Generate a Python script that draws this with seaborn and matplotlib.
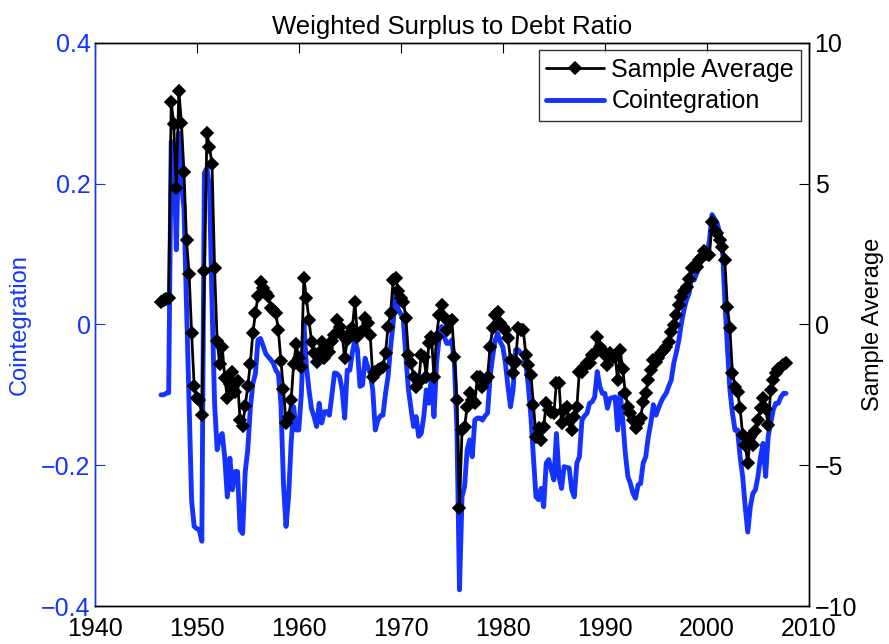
import numpy as np
import pandas as pd
import matplotlib
matplotlib.use("Agg")
import matplotlib.pyplot as plt
import seaborn as sns

# quarterly observations, 1946Q3 .. 2007Q4
start_year = 1946.5
end_year = 2008.0

# Sample Average (right axis)
sample_avg = [
    0.8, 0.87,
    0.9, 0.94, 7.9, 7.1,
    4.85, 8.3, 7.15, 5.4,
    3.0, 1.8, -0.3, -2.2,
    -2.6, -2.7, -3.2, 1.9,
    6.8, 6.3, 5.7, 2.0,
    -0.6, -1.4, -0.8, -1.9,
    -2.6, -2.1, -1.7, -2.4,
    -2.0, -3.4, -3.6, -2.9,
    -2.2, -1.4, -0.3, 0.4,
    1.0, 1.5, 1.3, 1.1,
    1.0, 0.6, 0.5, 0.4,
    -0.2, -1.3, -2.3, -3.5,
    -3.3, -2.7, -1.4, -0.7,
    -1.2, -1.5, 1.64, 0.93,
    0.16, -0.61, -1.02, -1.32,
    -1.0, -0.61, -1.2, -0.85,
    -0.97, -0.6, -0.37, 0.16,
    -0.08, -0.37, -1.2, -0.55,
    -0.3, -0.13, 0.81, -0.43,
    -0.3, -0.2, 0.22, 0.04,
    -0.37, -1.85, -1.7, -1.62,
    -1.6, -1.5, -1.02, -0.08,
    0.4, 1.58, 1.64, 1.2,
    0.93, 0.81, 0.22, -1.08,
    -1.38, -1.85, -2.21, -2.03,
    -1.08, -1.14, -1.85, -0.67,
    -0.43, -1.85, -0.43, 0.34,
    0.69, 0.28, -0.2, 0.1,
    0.16, -1.14, -2.68, -6.53,
    -3.75, -3.63, -2.92, -2.44,
    -2.68, -2.8, -1.85, -1.85,
    -2.21, -2.0, -1.85, -0.79,
    -0.13, 0.34, 0.45, 0.04,
    -0.1, -0.2, -0.49, -1.26,
    -1.73, -1.32, -0.13, -0.2,
    -0.2, -1.08, -1.44, -1.79,
    -2.86, -3.99, -3.69, -4.1,
    -3.63, -2.8, -3.04, -3.1,
    -3.15, -2.09, -2.09, -3.51,
    -3.04, -2.92, -3.39, -3.75,
    -3.3, -2.92, -1.68, -1.68,
    -1.5, -1.38, -1.38, -1.08,
    -1.02, -0.43, -0.79, -0.9,
    -1.08, -1.44, -1.02, -1.14,
    -1.14, -1.97, -0.91, -1.6,
    -2.44, -2.92, -3.15, -3.4,
    -3.69, -3.5, -3.33, -2.74,
    -2.44, -1.97, -1.62, -1.26,
    -1.32, -1.2, -1.02, -0.9,
    -0.79, -0.61, -0.26, -0.02,
    0.34, 0.69, 0.99, 1.2,
    1.34, 1.6, 2.0, 2.05,
    2.05, 2.29, 2.4, 2.59,
    2.5, 2.47, 3.65, 3.3,
    3.24, 3.0, 2.76, 2.29,
    0.63, -0.13, -1.73, -2.21,
    -2.4, -2.98, -3.93, -4.3,
    -4.93, -3.99, -4.28, -3.8,
    -3.39, -2.98, -2.62, -3.0,
    -3.57, -2.33, -1.97, -1.73,
    -1.6, -1.5, -1.45, -1.38,
]

# Cointegration (left axis)
cointegration = [
    -0.1, -0.1,
    -0.098, -0.097, 0.26, 0.25,
    0.106, 0.272, 0.2, 0.165,
    0.025, -0.115, -0.25, -0.287,
    -0.29, -0.292, -0.308, 0.215,
    0.222, 0.195, 0.03, -0.112,
    -0.178, -0.16, -0.155, -0.19,
    -0.245, -0.19, -0.235, -0.209,
    -0.209, -0.292, -0.297, -0.21,
    -0.178, -0.12, -0.084, -0.07,
    -0.022, -0.02, -0.03, -0.041,
    -0.046, -0.05, -0.055, -0.065,
    -0.07, -0.112, -0.226, -0.287,
    -0.245, -0.169, -0.117, -0.15,
    -0.15, -0.1, 0.004, -0.06,
    -0.093, -0.12, -0.131, -0.145,
    -0.112, -0.14, -0.124, -0.124,
    -0.129, -0.1, -0.069, -0.07,
    -0.074, -0.093, -0.133, -0.065,
    -0.065, -0.04, -0.022, -0.036,
    -0.088, -0.086, -0.048, -0.06,
    -0.069, -0.093, -0.15, -0.136,
    -0.13, -0.129, -0.098, -0.074,
    -0.032, 0.002, 0.051, 0.021,
    0.015, 0.006, -0.046, -0.093,
    -0.12, -0.145, -0.131, -0.159,
    -0.155, -0.131, -0.093, -0.112,
    -0.074, -0.131, -0.055, -0.02,
    -0.003, -0.017, -0.027, -0.027,
    -0.022, -0.055, -0.15, -0.377,
    -0.245, -0.23, -0.178, -0.164,
    -0.188, -0.136, -0.133, -0.133,
    -0.136, -0.13, -0.126, -0.074,
    -0.046, -0.022, -0.013, -0.025,
    -0.032, -0.055, -0.088, -0.117,
    -0.093, -0.036, -0.036, -0.041,
    -0.045, -0.055, -0.088, -0.131,
    -0.19, -0.245, -0.249, -0.233,
    -0.259, -0.197, -0.192, -0.207,
    -0.221, -0.155, -0.216, -0.233,
    -0.202, -0.203, -0.204, -0.235,
    -0.245, -0.197, -0.188, -0.136,
    -0.13, -0.126, -0.112, -0.11,
    -0.103, -0.067, -0.088, -0.098,
    -0.098, -0.119, -0.105, -0.104,
    -0.103, -0.15, -0.098, -0.136,
    -0.183, -0.216, -0.226, -0.24,
    -0.247, -0.228, -0.226, -0.197,
    -0.188, -0.16, -0.14, -0.114,
    -0.129, -0.119, -0.11, -0.103,
    -0.098, -0.088, -0.079, -0.055,
    -0.04, -0.022, 0.002, 0.021,
    0.035, 0.044, 0.068, 0.063,
    0.073, 0.08, 0.096, 0.098,
    0.099, 0.12, 0.156, 0.15,
    0.144, 0.13, 0.115, 0.035,
    -0.032, -0.093, -0.126, -0.15,
    -0.15, -0.188, -0.216, -0.259,
    -0.295, -0.259, -0.24, -0.235,
    -0.216, -0.188, -0.169, -0.216,
    -0.159, -0.14, -0.121, -0.112,
    -0.112, -0.103, -0.098, -0.098,
]

x_ticks = [1940, 1950, 1960, 1970, 1980, 1990, 2000, 2010]
left_ticks = [-0.4, -0.2, 0, 0.2, 0.4]
left_labels = ["\u22120.4", "\u22120.2", "0", "0.2", "0.4"]
right_ticks = [-10, -5, 0, 5, 10]

BLUE = "#1433ff"

dates = np.arange(start_year, end_year, 0.25)
df = pd.DataFrame({"Date": dates, "Sample Average": sample_avg,
                   "Cointegration": cointegration})

sns.set_style("white")
plt.rcParams["font.family"] = ["Liberation Sans", "DejaVu Sans"]
plt.rcParams["text.color"] = "black"

fig = plt.figure(figsize=(8.89, 6.44), dpi=100)
ax1 = fig.add_axes([0.1065, 0.059, 0.8035, 0.8745])
ax2 = ax1.twinx()

sns.lineplot(data=df, x="Date", y="Cointegration", ax=ax1, color=BLUE,
             linewidth=3.5, label="Cointegration", legend=False)
sns.lineplot(data=df, x="Date", y="Sample Average", ax=ax2, color="black",
             linewidth=2.0, marker="D", markersize=6.5, markeredgewidth=1.2,
             markerfacecolor="black", markeredgecolor="black",
             label="Sample Average", legend=False)

ax1.set_xlim(1940, 2010)
ax1.set_ylim(-0.4, 0.4)
ax2.set_ylim(-10, 10)
ax1.set_xticks(x_ticks)
ax1.set_yticks(left_ticks)
ax1.set_yticklabels(left_labels)
ax2.set_yticks(right_ticks)

ax1.tick_params(axis="x", direction="in", length=7, width=0.8, top=True,
                labelsize=18, pad=8, colors="black")
ax1.tick_params(axis="y", direction="in", length=7, width=0.8,
                labelsize=18, pad=3, colors=BLUE)
ax2.tick_params(axis="y", direction="in", length=7, width=0.8,
                labelsize=18, pad=4, colors="black")

for sp in ["top", "bottom", "right"]:
    ax1.spines[sp].set_color("black")
    ax2.spines[sp].set_color("black")
ax1.spines["left"].set_color(BLUE)
ax2.spines["left"].set_color(BLUE)
for ax in (ax1, ax2):
    for sp in ax.spines.values():
        sp.set_linewidth(1.0)

ax1.set_xlabel("")
ax1.set_ylabel("Cointegration", color=BLUE, fontsize=17)
ax1.yaxis.set_label_coords(-0.09, 0.5)
ax2.set_ylabel("Sample Average", color="black", fontsize=17)
ax2.yaxis.set_label_coords(1.074, 0.5)
ax1.set_title("Weighted Surplus to Debt Ratio", fontsize=18.5, pad=6,
              color="black")

h1, l1 = ax1.get_legend_handles_labels()
h2, l2 = ax2.get_legend_handles_labels()
leg = ax2.legend(h2 + h1, l2 + l1, loc="upper right", fontsize=18,
                 frameon=True, fancybox=False, edgecolor="black",
                 borderaxespad=0.3, handlelength=2.3, labelspacing=0.3,
                 borderpad=0.3, handletextpad=0.3)
leg.get_frame().set_linewidth(1.0)
for t in leg.get_texts():
    t.set_color("black")

fig.savefig("out.png", dpi=100)
